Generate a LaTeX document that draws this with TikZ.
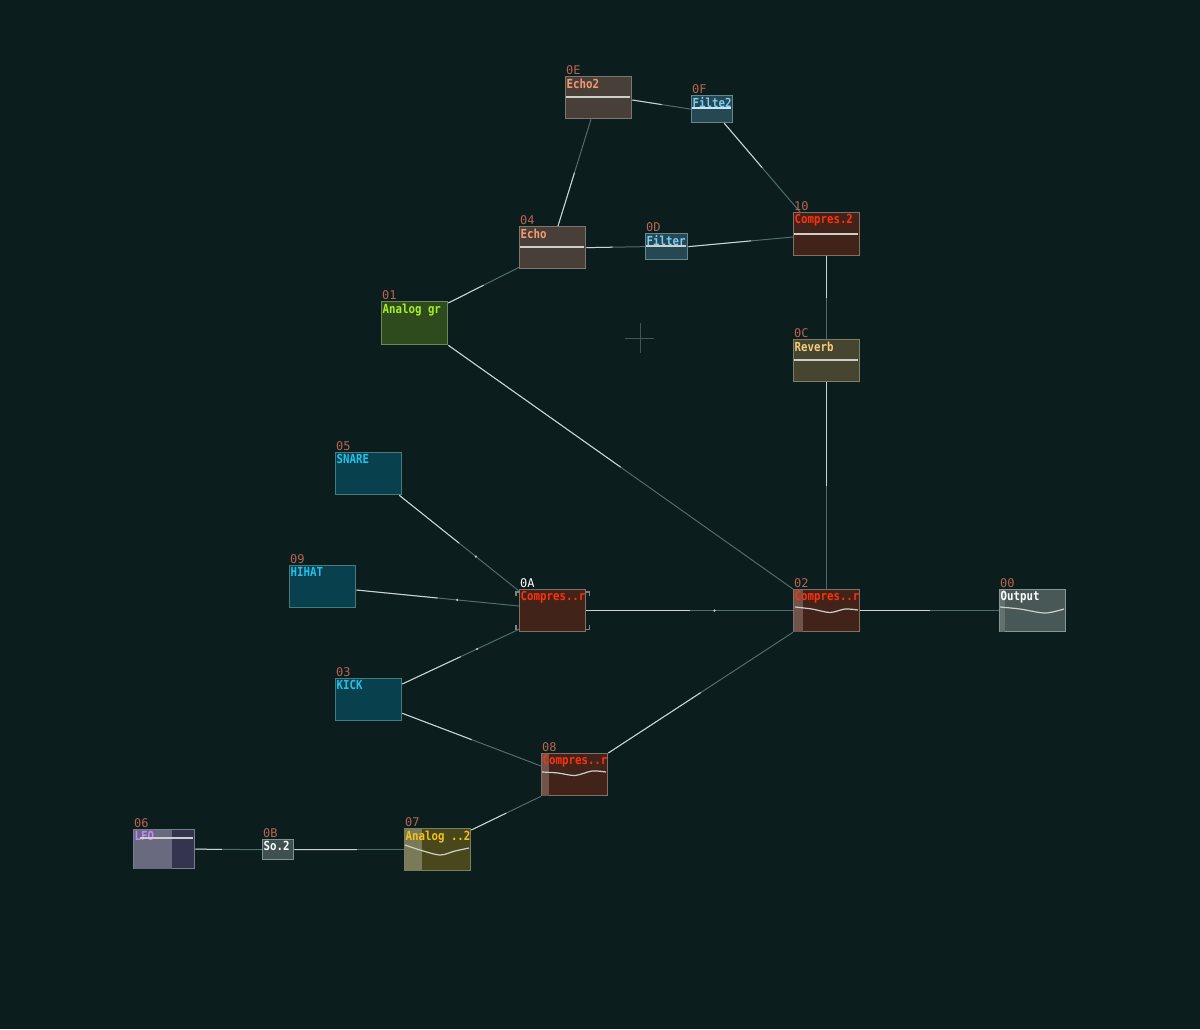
\documentclass[tikz,border=0pt]{standalone}
\usepackage{fontspec}
\newfontfamily\pixfont{DejaVu Sans Mono}[FakeStretch=0.86]
\newfontfamily\idxfont{DejaVu Sans Mono}[FakeStretch=1.0]
\usetikzlibrary{calc}
\definecolor{bgc}{RGB}{11,29,29}
\definecolor{idxc}{RGB}{185,100,80}
\definecolor{echof}{RGB}{72,64,56}
\definecolor{echob}{RGB}{125,118,108}
\definecolor{echot}{RGB}{245,155,115}
\definecolor{filtf}{RGB}{38,72,82}
\definecolor{filtb}{RGB}{100,135,140}
\definecolor{filtt}{RGB}{120,205,245}
\definecolor{compf}{RGB}{66,35,26}
\definecolor{compb}{RGB}{130,112,104}
\definecolor{compt}{RGB}{255,50,10}
\definecolor{compbar}{RGB}{112,84,76}
\definecolor{agf}{RGB}{45,75,28}
\definecolor{agb}{RGB}{112,132,98}
\definecolor{agt}{RGB}{170,240,30}
\definecolor{revf}{RGB}{70,70,48}
\definecolor{revb}{RGB}{125,125,105}
\definecolor{revt}{RGB}{245,205,125}
\definecolor{drumf}{RGB}{8,64,78}
\definecolor{drumb}{RGB}{72,122,128}
\definecolor{drumt}{RGB}{30,195,235}
\definecolor{outf}{RGB}{72,88,86}
\definecolor{outb}{RGB}{135,150,150}
\definecolor{outbar}{RGB}{98,112,110}
\definecolor{lfof}{RGB}{52,52,78}
\definecolor{lfol}{RGB}{105,105,128}
\definecolor{lfob}{RGB}{120,125,140}
\definecolor{lfot}{RGB}{195,135,255}
\definecolor{sof}{RGB}{62,80,80}
\definecolor{sob}{RGB}{130,145,145}
\definecolor{a2f}{RGB}{72,72,28}
\definecolor{a2l}{RGB}{122,122,88}
\definecolor{a2b}{RGB}{125,125,100}
\definecolor{a2t}{RGB}{245,195,20}
\definecolor{wavec}{RGB}{205,208,200}
\definecolor{dimc}{RGB}{80,108,108}
\definecolor{brc}{RGB}{205,212,212}
\definecolor{crossc}{RGB}{62,88,88}
\tikzset{
  module/.style={rectangle, draw, line width=1.3pt, inner sep=0pt, anchor=north west},
  title/.style={inner sep=0pt, anchor=north west, font=\pixfont\bfseries\fontsize{12.5}{12.5}\selectfont},
  idx/.style={inner sep=0pt, anchor=south west, text=idxc, font=\idxfont\fontsize{12}{12}\selectfont},
  linkdim/.style={draw=dimc, line width=1pt},
  linkbright/.style={draw=brc, line width=1pt},
  wave/.style={draw=wavec, line width=1.2pt},
  bracket/.style={draw=gray, line width=1.2pt}
}
\newcommand\lnk[3]{%
  \draw[linkdim] #1 -- #2;
  \draw[linkbright] #1 -- ($#1!#3!#2$);}
\begin{document}
\begin{tikzpicture}[x=1pt,y=-1pt]
\fill[bgc] (0,0) rectangle (1200,1029);
\useasboundingbox (0,0) rectangle (1200,1029);
% crosshair
\draw[crossc, line width=1pt] (625,338) -- (654,338) (640,323) -- (640,353);

% modules
\node[module, fill=echof, draw=echob, minimum width=66, minimum height=42] (m0E) at (565,76) {};
\node[module, fill=filtf, draw=filtb, minimum width=41, minimum height=27] (m0F) at (691,95) {};
\node[module, fill=echof, draw=echob, minimum width=66, minimum height=42] (m04) at (519,226) {};
\node[module, fill=filtf, draw=filtb, minimum width=42, minimum height=26] (m0D) at (645,233) {};
\node[module, fill=compf, draw=compb, minimum width=66, minimum height=43] (m10) at (793,212) {};
\node[module, fill=agf, draw=agb, minimum width=66, minimum height=43] (m01) at (381,301) {};
\node[module, fill=revf, draw=revb, minimum width=66, minimum height=42] (m0C) at (793,339) {};
\node[module, fill=drumf, draw=drumb, minimum width=66, minimum height=42] (m05) at (335,452) {};
\node[module, fill=drumf, draw=drumb, minimum width=66, minimum height=42] (m09) at (289,565) {};
\node[module, fill=drumf, draw=drumb, minimum width=66, minimum height=42] (m03) at (335,678) {};
\node[module, fill=compf, draw=compb, minimum width=66, minimum height=42] (m0A) at (519,589) {};
\node[module, fill=compf, draw=compb, minimum width=66, minimum height=42] (m02) at (793,589) {};
\node[module, fill=outf, draw=outb, minimum width=66, minimum height=42] (m00) at (999,589) {};
\node[module, fill=compf, draw=compb, minimum width=66, minimum height=42] (m08) at (541,753) {};
\node[module, fill=lfof, draw=lfob, minimum width=61, minimum height=39] (m06) at (133,829) {};
\node[module, fill=sof, draw=sob, minimum width=31, minimum height=20] (m0B) at (262,839) {};
\node[module, fill=a2f, draw=a2b, minimum width=66, minimum height=42] (m07) at (404,828) {};

% inner lighter bars
\fill[compbar] ([xshift=0.7,yshift=-0.7]m02.north west) rectangle ([xshift=10,yshift=0.7]m02.south west);
\fill[compbar] ([xshift=0.7,yshift=-0.7]m08.north west) rectangle ([xshift=8,yshift=0.7]m08.south west);
\fill[outbar] ([xshift=0.7,yshift=-0.7]m00.north west) rectangle ([xshift=6,yshift=0.7]m00.south west);
\fill[lfol] ([xshift=0.7,yshift=-0.7]m06.north west) rectangle ([xshift=39,yshift=0.7]m06.south west);
\fill[a2l] ([xshift=0.7,yshift=-0.7]m07.north west) rectangle ([xshift=18,yshift=0.7]m07.south west);

% selection brackets on 0A
\draw[bracket] ([xshift=-3,yshift=-3]m0A.north west) ++(0,4) -- ++(0,-4) -- ++(4,0);
\draw[bracket] ([xshift=3,yshift=-3]m0A.north east) ++(0,4) -- ++(0,-4) -- ++(-4,0);
\draw[bracket] ([xshift=-3,yshift=3]m0A.south west) ++(0,-4) -- ++(0,4) -- ++(4,0);
\draw[bracket] ([xshift=3,yshift=3]m0A.south east) ++(0,-4) -- ++(0,4) -- ++(-4,0);

% links
\lnk{([xshift=39]m04.north west)}{([xshift=26]m0E.south west)}{0.5}
\lnk{([yshift=-24]m0E.north east)}{(m0F.west)}{0.5}
\lnk{([xshift=-9]m0F.south east)}{([xshift=7]m10.north west)}{0.5}
\lnk{(m04.east)}{(m0D.west)}{0.45}
\lnk{(m0D.east)}{([yshift=-25]m10.north west)}{0.6}
\lnk{([yshift=-2]m01.north east)}{([yshift=2]m04.south west)}{0.5}
\lnk{(m10.south)}{(m0C.north)}{0.5}
\lnk{(m0C.south)}{(m02.north)}{0.5}
\lnk{(m01.south east)}{(m02.north west)}{0.5}
\lnk{([xshift=-3]m05.south east)}{([yshift=-2]m0A.north west)}{0.5}
\lnk{([yshift=-25]m09.north east)}{([yshift=-17]m0A.north west)}{0.5}
\lnk{([yshift=-6]m03.north east)}{([yshift=3]m0A.south west)}{0.5}
\lnk{([yshift=8]m03.south east)}{([yshift=-13]m08.north west)}{0.5}
\lnk{(m0A.east)}{(m02.west)}{0.5}
\lnk{(m02.east)}{(m00.west)}{0.5}
\lnk{(m08.north east)}{(m02.south west)}{0.5}
\lnk{(m06.east)}{(m0B.west)}{0.4}
\lnk{(m0B.east)}{(m07.west)}{0.57}
\lnk{([yshift=-2]m07.north east)}{(m08.south west)}{0.5}
% midpoint dots
\fill[brc] ($([xshift=-3]m05.south east)!0.64!([yshift=-2]m0A.north west)$) circle (1.2);
\fill[brc] ($([yshift=-25]m09.north east)!0.62!([yshift=-17]m0A.north west)$) circle (1.2);
\fill[brc] ($([yshift=-6]m03.north east)!0.64!([yshift=3]m0A.south west)$) circle (1.2);
\fill[brc] ($(m0A.east)!0.62!(m02.west)$) circle (1.2);

% waves
\draw[wave] (566,97) -- (630,97);
\draw[wave] (520,247) -- (584,247);
\draw[draw={rgb,255:red,200;green,230;blue,240}, line width=1.5pt] (692,108) -- (731,108);
\draw[wave] (646,246) -- (686,246);
\draw[wave] (794,234) -- (858,234);
\draw[wave] (794,360) -- (858,360);
\draw[wave] plot[smooth] coordinates {(795,607) (812,609) (830,612.5) (845,609) (858,610)};
\draw[wave] plot[smooth] coordinates {(1000,607) (1020,609) (1045,613) (1064,609)};
\draw[wave] plot[smooth] coordinates {(542,772) (558,773) (575,775.5) (592,771) (606,772)};
\draw[wave] plot[smooth] coordinates {(405,845) (420,850) (440,855) (455,851) (469,848)};

% titles
\node[title, text=echot] (t0E) at ([xshift=1.5,yshift=-2.5]m0E.north west) {Echo2};
\node[title, text=filtt] (t0F) at ([xshift=1.5,yshift=-2.5]m0F.north west) {Filte2};
\node[title, text=echot] (t04) at ([xshift=1.5,yshift=-2.5]m04.north west) {Echo};
\node[title, text=filtt] (t0D) at ([xshift=1.5,yshift=-2.5]m0D.north west) {Filter};
\node[title, text=compt] (t10) at ([xshift=1.5,yshift=-2.5]m10.north west) {Compres.2};
\node[title, text=agt] (t01) at ([xshift=1.5,yshift=-2.5]m01.north west) {Analog gr};
\node[title, text=revt] (t0C) at ([xshift=1.5,yshift=-2.5]m0C.north west) {Reverb};
\node[title, text=drumt] (t05) at ([xshift=1.5,yshift=-2.5]m05.north west) {SNARE};
\node[title, text=drumt] (t09) at ([xshift=1.5,yshift=-2.5]m09.north west) {HIHAT};
\node[title, text=drumt] (t03) at ([xshift=1.5,yshift=-2.5]m03.north west) {KICK};
\node[title, text=compt] (t0A) at ([xshift=1.5,yshift=-2.5]m0A.north west) {Compres..r};
\node[title, text=compt] (t02) at ([xshift=1.5,yshift=-2.5]m02.north west) {Compres..r};
\node[title, text=white] (t00) at ([xshift=1.5,yshift=-2.5]m00.north west) {Output};
\node[title, text=compt] (t08) at ([xshift=1.5,yshift=-2.5]m08.north west) {Compres..r};
\node[title, text=lfot] (t06) at ([xshift=1.5,yshift=-2.5]m06.north west) {LFO};
\node[title, text=white] (t0B) at ([xshift=1.5,yshift=-2.5]m0B.north west) {So.2};
\node[title, text=a2t] (t07) at ([xshift=1.5,yshift=-2.5]m07.north west) {Analog ..2};
% LFO line over title
\draw[wave] (140,838) -- (193,838);

% indices
\node[idx] (i0E) at ([xshift=1,yshift=1]m0E.north west) {0E};
\node[idx] (i0F) at ([xshift=1,yshift=1]m0F.north west) {0F};
\node[idx] (i04) at ([xshift=1,yshift=1]m04.north west) {04};
\node[idx] (i0D) at ([xshift=1,yshift=1]m0D.north west) {0D};
\node[idx] (i10) at ([xshift=1,yshift=1]m10.north west) {10};
\node[idx] (i01) at ([xshift=1,yshift=1]m01.north west) {01};
\node[idx] (i0C) at ([xshift=1,yshift=1]m0C.north west) {0C};
\node[idx] (i05) at ([xshift=1,yshift=1]m05.north west) {05};
\node[idx] (i09) at ([xshift=1,yshift=1]m09.north west) {09};
\node[idx] (i03) at ([xshift=1,yshift=1]m03.north west) {03};
\node[idx, text=white] (i0A) at ([xshift=1,yshift=1]m0A.north west) {0A};
\node[idx] (i02) at ([xshift=1,yshift=1]m02.north west) {02};
\node[idx] (i00) at ([xshift=1,yshift=1]m00.north west) {00};
\node[idx] (i08) at ([xshift=1,yshift=1]m08.north west) {08};
\node[idx] (i06) at ([xshift=1,yshift=1]m06.north west) {06};
\node[idx] (i0B) at ([xshift=1,yshift=1]m0B.north west) {0B};
\node[idx] (i07) at ([xshift=1,yshift=1]m07.north west) {07};
\end{tikzpicture}
\end{document}
